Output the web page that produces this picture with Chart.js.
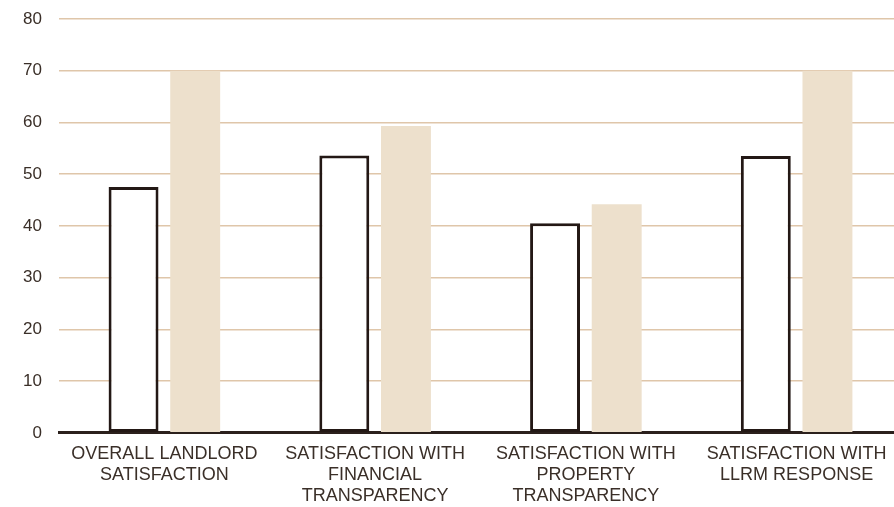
<!DOCTYPE html>
<html>
<head>
<meta charset="utf-8">
<script src="https://cdn.jsdelivr.net/npm/chart.js@4"></script>
<style>
  html, body { margin: 0; padding: 0; background: #fff; overflow: hidden; }
  /* the plot runs a little past the right edge, like the original */
  #wrap { width: 894px; height: 507px; overflow: hidden; }
</style>
</head>
<body>
<div id="wrap"><canvas id="bar" width="902" height="507"></canvas></div>
<script>
// chart data
const categories = [
    ['OVERALL LANDLORD', 'SATISFACTION'],
    ['SATISFACTION WITH', 'FINANCIAL', 'TRANSPARENCY'],
    ['SATISFACTION WITH', 'PROPERTY', 'TRANSPARENCY'],
    ['SATISFACTION WITH', 'LLRM RESPONSE']
];
const seriesA = [47.5, 53.6, 40.5, 53.5];
const seriesB = [70, 59.3, 44.2, 70];
const yTicks = [0, 10, 20, 30, 40, 50, 60, 70, 80];

const textColor = '#3a2f28';
const bar = document.getElementById('bar');

new Chart(bar, {
    type: 'bar',
    data: {
        labels: categories,
        datasets: [{
            label: 'A',
            data: seriesA,
            backgroundColor: '#ffffff',
            borderColor: '#231815',
            borderWidth: 3,
            borderSkipped: false
        }, {
            label: 'B',
            data: seriesB,
            backgroundColor: '#ede0cc',
            borderWidth: 0
        }]
    },
    options: {
        responsive: false,
        animation: false,
        devicePixelRatio: 1,
        categoryPercentage: 0.585,
        barPercentage: 0.81,
        layout: {
            padding: { top: 19, right: 0, left: 6, bottom: -11 }
        },
        plugins: {
            legend: { display: false },
            tooltip: { enabled: false }
        },
        scales: {
            x: {
                grid: { display: false, drawTicks: false },
                border: { color: '#2b201c', width: 3 },
                ticks: {
                    color: textColor,
                    padding: 11,
                    maxRotation: 0,
                    autoSkip: false,
                    font: { family: 'Liberation Sans', size: 18, lineHeight: 1.17 }
                },
                afterFit: scale => {
                    scale.paddingLeft = 0;
                    scale.paddingRight = 0;
                }
            },
            y: {
                min: 0,
                max: 80,
                afterBuildTicks: axis => {
                    axis.ticks = yTicks.map(v => ({ value: v }));
                },
                grid: { color: '#dfc6aa', lineWidth: 1.5, drawTicks: false },
                border: { display: false },
                ticks: {
                    color: textColor,
                    padding: 17,
                    font: { family: 'Liberation Sans', size: 17 }
                },
                afterFit: scale => {
                    scale.width = 53;
                    scale.paddingTop = 0;
                    scale.paddingBottom = 0;
                }
            }
        }
    }
});
</script>
</body>
</html>
